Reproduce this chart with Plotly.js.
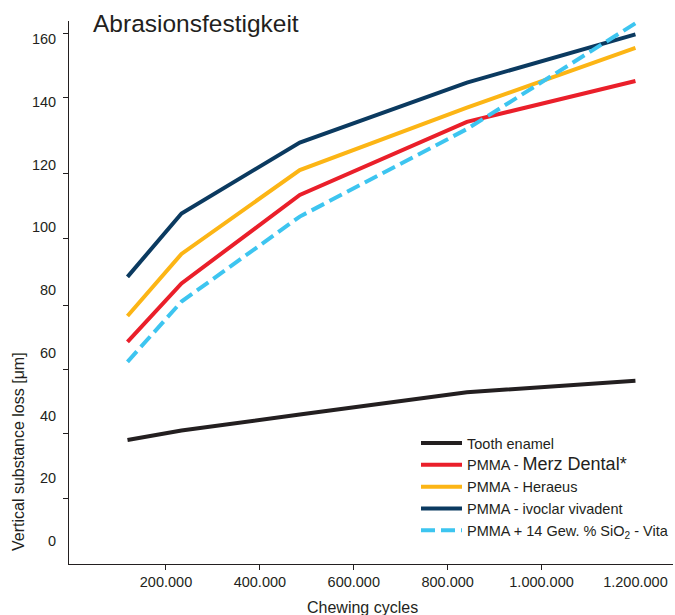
<!DOCTYPE html>
<html>
<head>
<meta charset="utf-8">
<script src="https://cdn.plot.ly/plotly-3.0.1.min.js"></script>
<style>html,body{margin:0;padding:0;background:#fff;}#chart{width:675px;height:615px;}</style>
</head>
<body>
<div id="chart"></div>
<script>
// ---- data ----
var chewingCycles = [118000, 233000, 485000, 841000, 1200000];
var toothEnamel   = [32.2, 35.2, 40.3, 47.4, 51.1];
var merzDental    = [63.5, 82.1, 110.3, 133.6, 146.6];
var heraeus       = [71.7, 91.5, 118.2, 138.1, 157.2];
var ivoclar       = [84.2, 104.4, 127.0, 146.1, 161.5];
var vita          = [57.1, 76.3, 103.4, 131.3, 165.0];

var seriesNames = [
  "Tooth enamel",
  "PMMA - <span style='font-size:18px'>Merz Dental*</span>",
  "PMMA - Heraeus",
  "PMMA - ivoclar vivadent",
  "PMMA + 14 Gew. % SiO<sub>2</sub> - Vita"
];

var xTickVals = [200000, 400000, 600000, 800000, 1000000, 1200000];
var xTickText = ["200.000", "400.000", "600.000", "800.000", "1.000.000", "1.200.000"];
var yTickVals = [0, 20, 40, 60, 80, 100, 120, 140, 160];
var yTickText = ["0", "20", "40", "60", "80", "100", "120", "140", "160"];

var ink = "#231f20";
var font = "Liberation Sans, Arial, Helvetica, sans-serif";

function line(y, name, color, dash) {
  return {
    x: chewingCycles, y: y, name: name, type: "scatter", mode: "lines",
    line: {color: color, width: 4, dash: dash || "solid"},
    hoverinfo: "skip"
  };
}

var traces = [
  line(toothEnamel, seriesNames[0], "#231f20"),
  line(merzDental,  seriesNames[1], "#ea1f2a"),
  line(heraeus,     seriesNames[2], "#fcb515"),
  line(ivoclar,     seriesNames[3], "#0b3a60"),
  line(vita,        seriesNames[4], "#3dc5f0", "14px,6px"),
  {x: [null], y: [null], xaxis: "x2", yaxis: "y2", type: "scatter", mode: "lines",
   showlegend: false, hoverinfo: "skip"}
];

var xRange = [-6600, 1280000];
var yRange = [-7.33, 165.74];

var layout = {
  width: 675, height: 615,
  margin: {l: 69, r: 2, t: 21, b: 51, autoexpand: false},
  paper_bgcolor: "#fff", plot_bgcolor: "#fff",
  font: {family: font, color: ink, size: 14.5},
  title: {
    text: "Abrasionsfestigkeit",
    font: {family: font, size: 24.5, color: ink},
    xref: "container", yref: "container",
    x: 93/675, xanchor: "left",
    y: 1 - 23/615, yanchor: "middle"
  },
  showlegend: true,
  legend: {
    x: (416 - 69)/604, y: (564 - 427)/543, xanchor: "left", yanchor: "top",
    bgcolor: "rgba(0,0,0,0)", borderwidth: 0,
    font: {family: font, size: 14.5, color: ink},
    itemwidth: 41, traceorder: "normal"
  },
  xaxis: {
    range: xRange, showgrid: false, zeroline: false, showline: false,
    tickvals: xTickVals, ticktext: xTickText,
    ticks: "outside", ticklen: 5, tickcolor: "rgba(0,0,0,0)",
    tickfont: {family: font, size: 14.5, color: ink}, fixedrange: true
  },
  yaxis: {
    range: yRange, showgrid: false, zeroline: false, showline: false,
    tickvals: yTickVals, ticktext: yTickText,
    ticks: "outside", ticklen: 9, tickcolor: "rgba(0,0,0,0)",
    tickfont: {family: font, size: 14.5, color: ink}, fixedrange: true
  },
  xaxis2: {
    overlaying: "x", anchor: "y2", side: "bottom", range: xRange,
    showgrid: false, zeroline: false, showline: true, linecolor: ink, linewidth: 1,
    ticks: "outside", ticklen: 5, tickwidth: 1, tickcolor: ink,
    tickvals: [200000, 400000, 600000, 800000, 1000000], showticklabels: false
  },
  yaxis2: {
    overlaying: "y", anchor: "x2", side: "left", range: yRange,
    showgrid: false, zeroline: false, showline: true, linecolor: ink, linewidth: 1,
    ticks: "outside", ticklen: 5, tickwidth: 1, tickcolor: ink,
    tickvals: [13.4, 34.4, 54.8, 75.2, 96.3, 117.0, 141.5, 161.9], showticklabels: false
  },
  annotations: [
    {text: "Vertical substance loss [μm]", textangle: -90, showarrow: false,
     xref: "paper", yref: "paper", x: (18 - 69)/604, y: (564 - 452)/543,
     xanchor: "center", yanchor: "middle",
     font: {family: font, size: 16, color: ink}},
    {text: "Chewing cycles", showarrow: false,
     xref: "paper", yref: "paper", x: (362.5 - 69)/604, y: (564 - 607)/543,
     xanchor: "center", yanchor: "middle",
     font: {family: font, size: 16, color: ink}}
  ]
};

Plotly.newPlot("chart", traces, layout, {displayModeBar: false, staticPlot: true});
</script>
</body>
</html>
